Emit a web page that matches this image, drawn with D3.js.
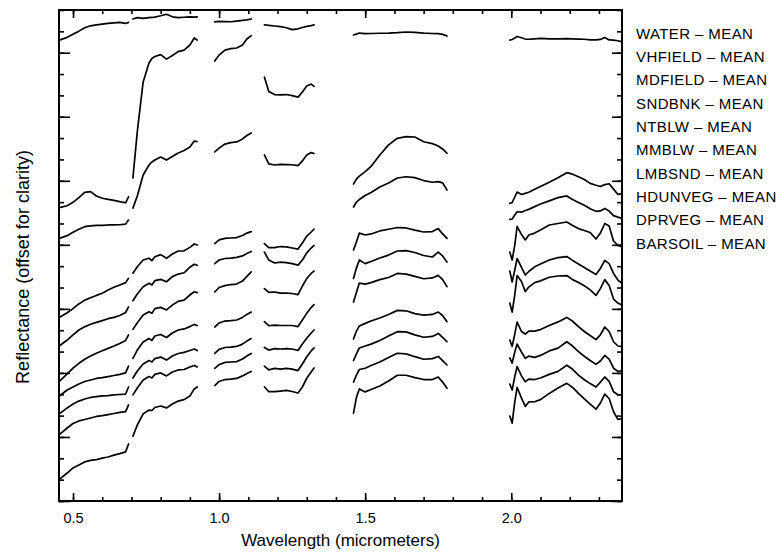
<!DOCTYPE html>
<html>
<head>
<meta charset="utf-8">
<script src="https://cdn.jsdelivr.net/npm/d3@7"></script>
<style>
  body { margin: 0; background: #fff; }
  svg { display: block; font-family: "Liberation Sans", Arial, Helvetica, sans-serif; }
</style>
</head>
<body>
<svg id="chart"></svg>
<script>
// wavelength samples (micrometers) of each detector band; bands are drawn as separate pieces
const bandWavelengths = [
    [0.453, 0.48, 0.50, 0.52, 0.54, 0.56, 0.58, 0.60, 0.62, 0.64, 0.66, 0.68, 0.69],
    [0.705, 0.72, 0.74, 0.76, 0.77, 0.78, 0.80, 0.82, 0.84, 0.86, 0.88, 0.90, 0.915, 0.925],
    [0.985, 1.0, 1.02, 1.04, 1.06, 1.08, 1.095, 1.11],
    [1.155, 1.17, 1.19, 1.21, 1.23, 1.25, 1.27, 1.285, 1.30, 1.315, 1.325],
    [1.46, 1.47, 1.48, 1.50, 1.52, 1.55, 1.58, 1.61, 1.64, 1.67, 1.70, 1.73, 1.75, 1.765, 1.78],
    [1.995, 2.003, 2.012, 2.02, 2.035, 2.048, 2.06, 2.08, 2.10, 2.13, 2.16, 2.19, 2.21, 2.23, 2.25, 2.27, 2.29, 2.305, 2.32, 2.335, 2.35, 2.365, 2.379]
];

// offset reflectance (arbitrary units, 10 per axis tick), one sub-array per band
const WATER = [
    [215.9, 217.2, 218.6, 220.1, 221.7, 222.6, 223.0, 223.4, 223.7, 224.0, 224.2, 223.7, 224.2],
    [225.8, 226.4, 226.1, 226.4, 226.5, 226.7, 227.3, 228.0, 226.8, 226.4, 226.6, 226.8, 226.7, 226.8],
    [224.4, 224.7, 224.6, 224.5, 224.8, 225.1, 225.4, 225.8],
    [223.0, 222.8, 222.5, 222.2, 221.7, 220.8, 221.2, 221.8, 222.3, 222.7, 223.0],
    [218.3, 218.7, 219.2, 218.9, 219.0, 219.1, 219.2, 219.4, 219.7, 219.5, 219.2, 219.0, 218.9, 218.6, 217.8],
    [215.9, 216.2, 216.9, 217.6, 217.0, 216.4, 216.3, 216.5, 216.7, 216.5, 216.5, 216.6, 216.5, 216.4, 216.3, 216.0, 216.0, 216.2, 217.1, 216.0, 215.9, 215.6, 215.1]
];
const VHFIELD = [
    [137.4, 138.3, 139.9, 142.1, 144.6, 144.9, 142.9, 141.8, 141.3, 140.8, 140.2, 139.7, 142.5],
    [151.3, 173.0, 196.3, 205.2, 207.3, 208.2, 209.1, 207.0, 208.7, 210.5, 211.2, 213.6, 216.9, 215.9],
    [206.1, 208.9, 211.2, 211.9, 212.2, 213.6, 216.4, 218.0],
    [198.6, 191.8, 190.4, 190.2, 190.4, 189.9, 189.2, 191.6, 194.4, 195.3, 194.2],
    [148.5, 150.8, 152.2, 154.3, 156.7, 162.1, 166.8, 169.9, 170.7, 170.5, 168.3, 167.4, 166.3, 164.9, 162.9],
    [139.4, 139.8, 142.4, 144.7, 143.6, 144.1, 144.6, 146.0, 147.3, 149.3, 151.4, 153.8, 153.1, 151.9, 150.6, 148.8, 147.9, 147.3, 148.2, 148.6, 146.1, 143.6, 144.0]
];
const MDFIELD = [
    [123.0, 124.3, 125.9, 127.3, 128.5, 128.9, 129.1, 129.1, 129.3, 129.3, 129.4, 129.7, 131.6],
    [137.2, 142.9, 152.7, 157.4, 158.8, 159.7, 161.1, 159.7, 161.4, 163.0, 164.2, 165.8, 168.6, 168.4],
    [163.5, 165.3, 167.2, 167.9, 168.2, 169.6, 171.2, 172.4],
    [162.1, 157.9, 157.4, 157.7, 157.6, 157.5, 157.1, 159.3, 162.1, 163.2, 162.8],
    [137.7, 140.0, 141.2, 143.1, 144.5, 147.1, 149.0, 151.3, 151.9, 151.5, 150.1, 149.3, 149.6, 149.0, 145.7],
    [131.9, 132.1, 134.0, 135.5, 135.3, 136.1, 136.6, 137.9, 139.1, 140.6, 142.1, 142.9, 141.2, 139.8, 138.5, 136.9, 135.7, 135.9, 137.0, 135.8, 133.7, 133.0, 132.4]
];
const SNDBNK = [
    [86.0, 88.2, 90.1, 92.3, 94.1, 95.2, 96.3, 97.3, 98.8, 100.1, 101.2, 102.3, 104.3],
    [106.7, 109.7, 112.9, 113.7, 112.6, 114.4, 115.4, 113.7, 115.7, 117.1, 117.2, 118.8, 120.4, 119.9],
    [120.6, 122.3, 123.0, 123.2, 123.4, 124.4, 125.5, 126.2],
    [120.6, 118.7, 118.7, 119.2, 119.0, 118.5, 118.0, 120.8, 124.1, 126.0, 127.4],
    [117.6, 121.3, 125.5, 124.6, 125.1, 126.5, 127.3, 128.1, 127.9, 126.9, 126.0, 126.2, 127.6, 125.1, 123.0],
    [116.6, 112.9, 119.9, 128.6, 124.8, 122.3, 124.6, 125.5, 126.9, 129.3, 130.0, 130.7, 129.1, 127.6, 126.7, 125.8, 122.7, 125.5, 130.0, 128.8, 121.8, 119.7, 119.1]
];
const NTBLW = [
    [72.6, 75.4, 77.8, 80.1, 81.6, 82.8, 83.7, 84.5, 85.4, 86.0, 86.9, 88.3, 90.9],
    [93.8, 97.0, 100.4, 102.0, 101.2, 103.2, 103.8, 102.7, 105.1, 106.3, 106.9, 109.5, 110.9, 110.4],
    [111.2, 112.9, 113.6, 113.8, 114.1, 114.8, 115.9, 116.9],
    [116.6, 112.9, 111.5, 111.9, 111.7, 111.2, 110.5, 112.9, 116.2, 118.5, 119.7],
    [104.2, 109.1, 112.9, 111.2, 112.2, 113.8, 115.2, 117.1, 117.3, 116.4, 115.0, 114.3, 116.6, 114.8, 111.9],
    [107.7, 102.6, 108.2, 113.6, 109.4, 105.9, 107.5, 109.7, 111.0, 112.9, 114.0, 114.5, 112.7, 111.0, 109.4, 107.7, 106.1, 108.9, 112.7, 111.2, 106.6, 103.5, 102.0]
];
const MMBLW = [
    [56.0, 59.5, 62.2, 64.5, 66.4, 67.9, 69.2, 70.4, 71.5, 72.6, 73.8, 75.2, 77.8],
    [80.4, 83.5, 87.1, 88.7, 87.9, 90.1, 90.7, 89.5, 91.8, 93.5, 94.1, 96.5, 98.0, 97.6],
    [97.9, 100.0, 100.9, 101.4, 101.6, 103.0, 105.2, 107.3],
    [99.5, 97.7, 97.9, 97.4, 97.4, 97.2, 96.7, 100.7, 104.2, 106.6, 107.7],
    [93.2, 97.7, 102.1, 101.6, 102.3, 103.7, 104.7, 106.6, 106.3, 105.2, 104.1, 104.5, 105.7, 103.7, 100.4],
    [92.7, 88.5, 96.5, 105.6, 102.8, 98.1, 100.2, 102.3, 103.1, 104.8, 105.4, 105.6, 103.7, 102.3, 100.8, 98.9, 96.3, 99.5, 103.7, 100.9, 94.6, 92.7, 91.8]
];
const LMBSND = [
    [49.2, 52.0, 53.4, 54.8, 56.0, 56.7, 57.4, 57.8, 58.3, 58.8, 59.3, 60.0, 63.2],
    [66.8, 70.7, 74.5, 76.1, 75.2, 77.3, 78.0, 76.6, 78.7, 80.1, 80.6, 81.7, 82.7, 82.2],
    [81.5, 83.4, 84.3, 84.5, 84.8, 86.0, 87.4, 88.5],
    [84.0, 82.1, 82.4, 82.2, 82.2, 82.2, 81.7, 84.8, 87.9, 90.6, 92.0],
    [75.9, 79.6, 82.0, 83.2, 84.3, 85.7, 87.4, 89.3, 89.1, 87.8, 87.1, 87.4, 88.5, 86.9, 84.0],
    [75.4, 72.4, 78.2, 83.8, 79.4, 78.2, 79.6, 79.6, 80.3, 82.2, 83.9, 86.0, 84.2, 81.7, 79.4, 77.5, 75.6, 77.8, 81.5, 79.4, 74.6, 72.6, 72.3]
];
const HDUNVEG = [
    [40.8, 43.6, 45.4, 46.8, 47.8, 48.5, 48.9, 49.2, 49.4, 49.7, 49.9, 50.1, 53.4],
    [57.6, 60.9, 64.2, 65.8, 65.1, 66.7, 67.4, 66.0, 67.9, 69.1, 69.6, 70.5, 71.2, 70.5],
    [69.1, 71.0, 71.9, 72.1, 72.4, 73.5, 74.9, 76.1],
    [71.9, 70.7, 71.4, 71.2, 71.4, 71.2, 70.5, 73.5, 76.2, 78.7, 80.1],
    [65.8, 68.9, 71.7, 72.6, 73.5, 75.2, 77.3, 79.3, 79.2, 77.8, 76.7, 77.1, 78.5, 76.6, 74.6],
    [67.0, 64.6, 69.8, 73.5, 69.8, 66.8, 67.9, 67.3, 68.2, 70.3, 71.6, 74.6, 72.6, 70.0, 67.8, 65.8, 64.0, 65.6, 68.2, 66.5, 62.2, 60.7, 61.0]
];
const DPRVEG = [
    [31.1, 34.2, 36.3, 37.5, 38.2, 38.9, 39.6, 40.0, 40.5, 41.0, 41.5, 41.9, 45.0],
    [49.7, 52.9, 56.7, 58.3, 57.6, 59.3, 60.0, 58.6, 60.4, 61.4, 61.6, 62.8, 63.5, 62.8],
    [62.1, 63.9, 64.9, 65.1, 65.3, 66.5, 67.9, 69.1],
    [63.2, 61.4, 62.1, 61.8, 62.1, 61.8, 61.1, 64.2, 67.6, 70.3, 71.7],
    [55.7, 59.0, 61.6, 62.2, 63.5, 65.1, 67.2, 69.2, 68.9, 67.6, 66.4, 66.7, 67.7, 65.8, 63.7],
    [54.8, 52.0, 58.3, 63.0, 58.6, 55.9, 57.1, 56.9, 57.6, 59.3, 60.7, 63.6, 61.7, 59.0, 56.8, 55.0, 53.4, 55.7, 58.1, 56.0, 51.2, 49.8, 49.7]
];
const BARSOIL = [
    [10.1, 13.1, 15.5, 16.9, 18.3, 19.0, 19.4, 20.1, 20.6, 21.5, 22.2, 23.0, 26.7],
    [30.4, 35.6, 40.8, 42.6, 42.4, 43.8, 44.5, 43.6, 45.4, 46.8, 47.5, 49.2, 52.5, 53.4],
    [54.1, 56.0, 56.9, 57.1, 57.4, 58.6, 59.7, 60.7],
    [53.5, 51.2, 51.2, 51.5, 51.8, 51.3, 50.6, 53.4, 57.5, 60.4, 62.3],
    [41.2, 48.5, 52.5, 51.1, 52.2, 53.9, 56.2, 58.9, 58.9, 57.8, 56.9, 56.9, 58.1, 55.7, 52.8],
    [39.8, 36.5, 46.4, 53.2, 48.2, 44.3, 46.4, 46.5, 47.5, 50.4, 52.9, 55.1, 53.2, 50.4, 47.8, 45.4, 43.0, 45.9, 50.1, 48.0, 41.8, 38.2, 38.7]
];

const seriesNames = ['WATER', 'VHFIELD', 'MDFIELD', 'SNDBNK', 'NTBLW', 'MMBLW', 'LMBSND', 'HDUNVEG', 'DPRVEG', 'BARSOIL'];
const seriesValues = [WATER, VHFIELD, MDFIELD, SNDBNK, NTBLW, MMBLW, LMBSND, HDUNVEG, DPRVEG, BARSOIL];

const xMajorTicks = [0.5, 1.0, 1.5, 2.0];
const xMinorTicks = d3.range(5, 24).map(v => v / 10);
const yMinorTicks = d3.range(0, 231, 10);
const yMajorTicks = d3.range(0, 211, 30);

const width = 779;
const height = 552;
const plot = { left: 59, right: 622, top: 10, bottom: 501 };

const svg = d3.select('#chart')
    .attr('width', width)
    .attr('height', height);

const x = d3.scaleLinear().domain([0.452, 2.379]).range([plot.left, plot.right]);
const y = d3.scaleLinear().domain([0, 230]).range([plot.bottom, plot.top]);

const line = d3.line()
    .x(d => x(d[0]))
    .y(d => y(d[1]));

// spectra
const curves = svg.append('g')
    .attr('fill', 'none')
    .attr('stroke', '#000')
    .attr('stroke-width', 1.7)
    .attr('stroke-linejoin', 'round')
    .attr('stroke-linecap', 'round');

seriesValues.forEach(bands => {
    bands.forEach((vals, b) => {
        curves.append('path')
            .attr('d', line(vals.map((v, i) => [bandWavelengths[b][i], v])));
    });
});

// axes, all ticks pointing inward
function styleAxis(g) {
    g.select('.domain').remove();
    g.selectAll('.tick line').attr('stroke', '#000').attr('stroke-width', 1.6);
}

svg.append('g')
    .attr('transform', `translate(0,${plot.bottom})`)
    .call(d3.axisBottom(x).tickValues(xMinorTicks).tickSizeInner(-4).tickFormat(''))
    .call(styleAxis);
svg.append('g')
    .attr('transform', `translate(0,${plot.bottom})`)
    .call(d3.axisBottom(x).tickValues(xMajorTicks).tickSizeInner(-8).tickPadding(12).tickFormat(d3.format('.1f')))
    .call(styleAxis)
    .call(g => g.selectAll('text').attr('fill', '#000').attr('font-size', '14.5px').attr('font-family', null));

svg.append('g')
    .attr('transform', `translate(0,${plot.top})`)
    .call(d3.axisTop(x).tickValues(xMinorTicks).tickSizeInner(-4).tickFormat(''))
    .call(styleAxis);
svg.append('g')
    .attr('transform', `translate(0,${plot.top})`)
    .call(d3.axisTop(x).tickValues(xMajorTicks).tickSizeInner(-8).tickFormat(''))
    .call(styleAxis);

svg.append('g')
    .attr('transform', `translate(${plot.left},0)`)
    .call(d3.axisLeft(y).tickValues(yMinorTicks).tickSizeInner(-5).tickFormat(''))
    .call(styleAxis);
svg.append('g')
    .attr('transform', `translate(${plot.left},0)`)
    .call(d3.axisLeft(y).tickValues(yMajorTicks).tickSizeInner(-11).tickFormat(''))
    .call(styleAxis);

svg.append('g')
    .attr('transform', `translate(${plot.right},0)`)
    .call(d3.axisRight(y).tickValues(yMinorTicks).tickSizeInner(-5).tickFormat(''))
    .call(styleAxis);
svg.append('g')
    .attr('transform', `translate(${plot.right},0)`)
    .call(d3.axisRight(y).tickValues(yMajorTicks).tickSizeInner(-10).tickFormat(''))
    .call(styleAxis);

svg.append('rect')
    .attr('x', plot.left)
    .attr('y', plot.top)
    .attr('width', plot.right - plot.left)
    .attr('height', plot.bottom - plot.top)
    .attr('fill', 'none')
    .attr('stroke', '#000')
    .attr('stroke-width', 2);

// titles
svg.append('text')
    .attr('x', (plot.left + plot.right) / 2)
    .attr('y', 546)
    .attr('text-anchor', 'middle')
    .attr('font-size', '17px')
    .text('Wavelength (micrometers)');

svg.append('text')
    .attr('transform', 'translate(28.5,267) rotate(-90)')
    .attr('text-anchor', 'middle')
    .attr('font-size', '18px')
    .text('Reflectance (offset for clarity)');

// legend
const legendY = d3.scalePoint().domain(seriesNames).range([38.5, 248.5]);

svg.append('g')
    .selectAll('text')
    .data(seriesNames)
    .enter()
    .append('text')
    .attr('x', 636)
    .attr('y', d => legendY(d))
    .attr('font-size', '15px')
    .attr('letter-spacing', '0.4px')
    .text(d => `${d} \u2013 MEAN`);
</script>
</body>
</html>
